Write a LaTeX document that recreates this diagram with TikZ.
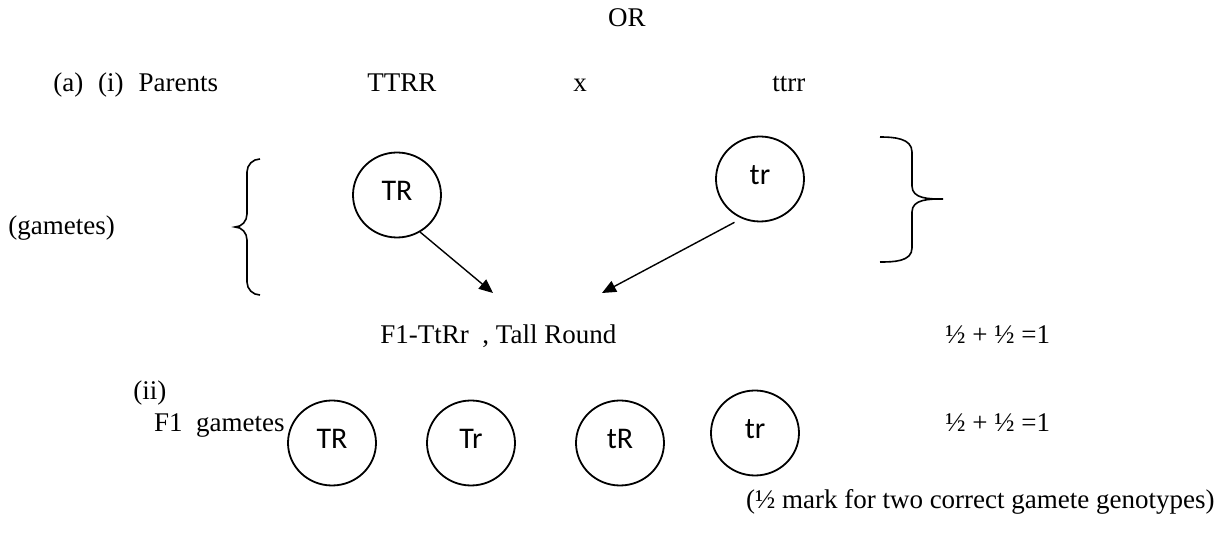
\documentclass[tikz,border=0pt]{standalone}
\usepackage{fontspec}
\setmainfont{Liberation Serif}
\newfontfamily\gamfont{Carlito}
\usetikzlibrary{shapes.geometric,arrows.meta}

\begin{document}
\begin{tikzpicture}[x=0.5pt,y=-0.5pt,
    every node/.style={inner sep=0pt,font=\fontsize{13.5}{16}\selectfont},
    gamete/.style={ellipse,draw,line width=0.9pt,minimum width=44pt,minimum height=42.5pt,
      font=\gamfont\fontsize{15}{17}\selectfont,text height=9.7pt,text depth=4pt},
    cross/.style={-{Triangle[length=7pt,width=6pt]},line width=0.7pt},
    brace/.style={line width=0.8pt}]
        \useasboundingbox (0,0) rectangle (1223,550);

        \node[anchor=base] (or) at (627,27) {OR};
        \node[anchor=base west] (parents) at (53,92) {(a)\hspace{.55em}(i)\hspace{.55em}Parents};
        \node[anchor=base west] (pA) at (367,92) {TTRR};
        \node[anchor=base] (times) at (580,92) {x};
        \node[anchor=base west] (pB) at (772,92) {ttrr};

        % parental gametes
        \node[anchor=base west] (gam) at (8,235) {(gametes)};
        \node[gamete] (gTR) at (397,195) {TR};
        \node[gamete] (gtr) at (760,179) {tr};
        \coordinate (mL) at (493,293);
        \coordinate (mR) at (602,293);
        \draw[cross] (gTR.-58) -- (mL);
        \draw[cross,shorten <=4pt] (gtr.-115) -- (mR);

        \draw[brace] (260,159) to[out=180,in=90] (247,172) -- (247,214)
          to[out=-90,in=0] (235,227) to[out=0,in=90] (247,240) -- (247,282)
          to[out=-90,in=180] (260,295);
        \draw[brace] (880,137) to[out=0,in=90] (912,152) -- (912,186)
          to[out=-90,in=180] (943,199) to[out=180,in=90] (912,212) -- (912,248)
          to[out=-90,in=0] (880,262);

        \node[anchor=base west] (f1) at (380,344) {F1-TtRr\ \ , Tall Round};
        \node[anchor=base west] (markA) at (945,344) {½ + ½ =1};

        % F1 gametes
        \node[anchor=base west] (ii) at (133,400) {(ii)};
        \node[anchor=base east] (f1gam) at (285,432) {F1\ \ gametes};
        \node[gamete] (fTR) at (332,443) {TR};
        \node[gamete] (fTr) at (471,443) {Tr};
        \node[gamete] (ftR) at (620,443) {tR};
        \node[gamete] (ftr) at (755,433) {tr};
        \node[anchor=base west] (markB) at (945,432) {½ + ½ =1};

        \node[anchor=base east] (note) at (1215,509) {(½ mark for two correct gamete genotypes)};
      \end{tikzpicture}
\end{document}
